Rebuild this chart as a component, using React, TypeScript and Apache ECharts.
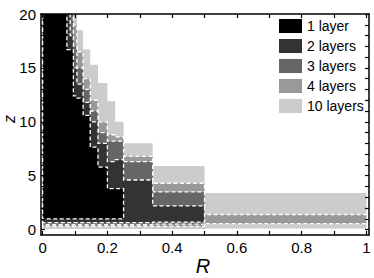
import React, { useEffect, useRef } from "react";
import * as echarts from "echarts";

// R bin edges (bins are [rEdges[i], rEdges[i+1]])
const rEdges = [0, 0.075, 0.085, 0.095, 0.106, 0.125, 0.147, 0.171, 0.2, 0.224, 0.25, 0.34, 0.5, 1];

const layerNames = ["1 layer", "2 layers", "3 layers", "4 layers", "10 layers"];
const layerColors = ["#000000", "#333333", "#666666", "#999999", "#cccccc"];

// upper z per bin (null = region absent)
const top1 = [20.5, 16.7, 16.7, 12.4, 12.2, 10.6, 7.65, 5.8, 3.8, 3.8, null, null, null];
const top2 = [20.5, 20.5, 18, 15, 13.5, 11.8, 10.0, 8.0, 6.3, 6.5, 4.6, 2.2, null];
const top3 = [20.5, 20.5, 20.5, 17, 15, 13, 11, 9, 8.2, 8.2, 6.3, 3.5, null];
const top4 = [20.5, 20.5, 20.5, 19, 16.5, 14, 12, 10, 8.8, 8.6, 6.8, 4.3, 1.4];
const top10 = [20.5, 20.5, 20.5, 20.5, 18.5, 16.7, 15.3, 13.6, 11.9, 10.0, 8.0, 5.9, 3.4];

// lower z per bin
const bot1 = [1.0, 1.0, 1.0, 1.0, 1.0, 1.0, 1.0, 1.0, 1.0, 1.0, null, null, null];
const bot2 = [0.65, 0.65, 0.65, 0.65, 0.65, 0.65, 0.65, 0.65, 0.65, 0.65, 0.65, 0.7, null];
const bot3 = [0.45, 0.45, 0.45, 0.45, 0.45, 0.45, 0.45, 0.45, 0.45, 0.45, 0.45, 0.5, null];
const bot4 = [0.3, 0.3, 0.3, 0.3, 0.3, 0.3, 0.3, 0.3, 0.3, 0.3, 0.3, 0.3, 0.55];
const bot10 = [0.05, 0.05, 0.05, 0.05, 0.05, 0.05, 0.05, 0.05, 0.05, 0.05, 0.05, 0.05, 0.1];

const xTickValues = [0, 0.1, 0.2, 0.3, 0.4, 0.5, 0.6, 0.7, 0.8, 0.9, 1];
const xLabelValues = [0, 0.2, 0.4, 0.6, 0.8, 1];
const yTickValues = [0, 1, 2, 3, 4, 5, 6, 7, 8, 9, 10, 11, 12, 13, 14, 15, 16, 17, 18, 19, 20];
const yLabelValues = [0, 5, 10, 15, 20];

const xAxisTitle = "R";
const yAxisTitle = "z";

const FONT = "Liberation Sans, Arial, Helvetica, sans-serif";

function makeLayerSeries(name: string, color: string, tops: (number | null)[], bots: (number | null)[], outlined: boolean) {
  return {
    type: "custom",
    name,
    coordinateSystem: "cartesian2d",
    xAxisIndex: 0,
    yAxisIndex: 0,
    clip: true,
    itemStyle: { color },
    data: [[0, 0]],
    renderItem: (params: any, api: any) => {
      const pts: number[][] = [];
      let last = -1;
      for (let i = 0; i < tops.length; i++) {
        if (tops[i] == null) break;
        pts.push(api.coord([rEdges[i], tops[i]]));
        pts.push(api.coord([rEdges[i + 1], tops[i]]));
        last = i;
      }
      for (let i = last; i >= 0; i--) {
        pts.push(api.coord([rEdges[i + 1], bots[i]]));
        pts.push(api.coord([rEdges[i], bots[i]]));
      }
      return {
        type: "polygon",
        shape: { points: pts },
        style: outlined
          ? { fill: color, stroke: "#ffffff", lineWidth: 1.3, lineDash: [4, 2.5] }
          : { fill: color, stroke: null },
      };
    },
  };
}

export default function App() {
  const ref = useRef<HTMLDivElement>(null);
  useEffect(() => {
    if (!ref.current) return;
    const chart = echarts.init(ref.current, null, { renderer: "svg" });
    const axisLineStyle = { color: "#000", width: 1.5 };
    const tickStyle = { color: "#000", width: 1.2 };
    chart.setOption({
      animation: false,
      backgroundColor: "#fff",
      grid: { left: 41, right: 5, top: 14, bottom: 43, containLabel: false, outerBoundsMode: "none" },
      legend: {
        orient: "vertical",
        left: 274,
        top: 14,
        icon: "rect",
        itemWidth: 23,
        itemHeight: 14,
        itemGap: 6,
        selectedMode: false,
        data: layerNames,
        textStyle: { fontSize: 14, color: "#000", fontFamily: FONT },
      },
      graphic: [
        {
          type: "text",
          x: 203,
          y: 266,
          style: {
            text: xAxisTitle,
            fill: "#000",
            font: "italic 20px " + FONT,
            align: "center",
            verticalAlign: "middle",
            textAlign: "center",
            textVerticalAlign: "middle",
          },
        },
        {
          type: "text",
          x: 9,
          y: 119,
          rotation: Math.PI / 2,
          style: {
            text: yAxisTitle,
            fill: "#000",
            font: "italic 16px " + FONT,
            align: "center",
            verticalAlign: "middle",
            textAlign: "center",
            textVerticalAlign: "middle",
          },
        },
      ],
      xAxis: [
        {
          type: "value",
          position: "bottom",
          min: -0.005,
          max: 1.008,
          z: 5,
          axisLine: { show: true, onZero: false, lineStyle: axisLineStyle },
          axisTick: { show: true, inside: true, length: 4, customValues: xTickValues, lineStyle: tickStyle },
          axisLabel: { customValues: xLabelValues, margin: 5, fontSize: 15, color: "#000", fontFamily: FONT },
          splitLine: { show: false },
        },
        {
          type: "value",
          position: "top",
          min: -0.005,
          max: 1.008,
          z: 5,
          axisLine: { show: true, onZero: false, lineStyle: axisLineStyle },
          axisTick: { show: true, inside: true, length: 4, customValues: xTickValues, lineStyle: tickStyle },
          axisLabel: { show: false },
          splitLine: { show: false },
        },
      ],
      yAxis: [
        {
          type: "value",
          position: "left",
          min: -0.5,
          max: 20,
          z: 5,
          axisLine: { show: true, onZero: false, lineStyle: axisLineStyle },
          axisTick: { show: true, inside: true, length: 4, customValues: yTickValues, lineStyle: tickStyle },
          axisLabel: { customValues: yLabelValues, margin: 5, fontSize: 15, color: "#000", fontFamily: FONT },
          splitLine: { show: false },
        },
        {
          type: "value",
          position: "right",
          min: -0.5,
          max: 20,
          z: 5,
          axisLine: { show: true, onZero: false, lineStyle: axisLineStyle },
          axisTick: { show: true, inside: true, length: 4, customValues: yTickValues, lineStyle: tickStyle },
          axisLabel: { show: false },
          splitLine: { show: false },
        },
      ],
      series: [
        makeLayerSeries(layerNames[4], layerColors[4], top10, bot10, false),
        makeLayerSeries(layerNames[3], layerColors[3], top4, bot4, true),
        makeLayerSeries(layerNames[2], layerColors[2], top3, bot3, true),
        makeLayerSeries(layerNames[1], layerColors[1], top2, bot2, true),
        makeLayerSeries(layerNames[0], layerColors[0], top1, bot1, true),
      ],
    });
    return () => chart.dispose();
  }, []);
  return (
    <div
      ref={ref}
      style={{ position: "fixed", left: 0, top: 0, width: 374, height: 278 }}
    />
  );
}
